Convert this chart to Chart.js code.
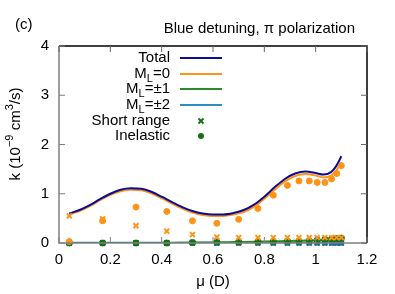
<!DOCTYPE html>
<html>
<head>
<meta charset="utf-8">
<script src="https://cdn.jsdelivr.net/npm/chart.js@4.4.1/dist/chart.umd.min.js"></script>
<style>
  html, body { margin: 0; padding: 0; background: #fff; }
  #wrap { width: 395px; height: 294px; position: relative; }
</style>
</head>
<body>
<div id="wrap"><canvas id="c"></canvas></div>
<script>
// --- data ---
const muCurve = [0.04, 0.08, 0.12, 0.16, 0.20, 0.24, 0.28, 0.32, 0.36, 0.40, 0.44, 0.48, 0.52, 0.56, 0.60,
  0.64, 0.68, 0.72, 0.76, 0.80, 0.84, 0.88, 0.92, 0.96, 1.00, 1.03, 1.06, 1.08, 1.10];
const totalK = [0.60, 0.67, 0.77, 0.89, 1.00, 1.08, 1.11, 1.10, 1.04, 0.94, 0.83, 0.73, 0.65, 0.60, 0.58,
  0.58, 0.61, 0.67, 0.78, 0.94, 1.13, 1.30, 1.41, 1.45, 1.42, 1.39, 1.44, 1.56, 1.76];
const ml0K = [0.58, 0.65, 0.75, 0.87, 0.98, 1.05, 1.08, 1.07, 1.01, 0.91, 0.80, 0.70, 0.62, 0.57, 0.55,
  0.55, 0.58, 0.63, 0.74, 0.90, 1.08, 1.25, 1.36, 1.40, 1.37, 1.33, 1.37, 1.47, 1.64];
const ml1K = [0, 0, 0, 0, 0, 0, 0, 0, 0, 0, 0.002, 0.005, 0.008, 0.01, 0.012,
  0.015, 0.02, 0.022, 0.025, 0.03, 0.035, 0.04, 0.045, 0.05, 0.055, 0.06, 0.065, 0.075, 0.09];
const ml2K = [0.003, 0.003, 0.003, 0.003, 0.003, 0.003, 0.003, 0.003, 0.003, 0.003, 0.003, 0.004, 0.004, 0.004, 0.004,
  0.005, 0.005, 0.005, 0.006, 0.006, 0.007, 0.008, 0.009, 0.01, 0.011, 0.012, 0.014, 0.016, 0.02];

const muPts = [0.04, 0.17, 0.30, 0.42, 0.52, 0.615, 0.70, 0.775, 0.835, 0.89, 0.935, 0.975, 1.006, 1.036, 1.062, 1.082, 1.10];
const ml0Short = [0.55, 0.49, 0.35, 0.24, 0.17, 0.12, 0.11, 0.11, 0.11, 0.11, 0.11, 0.11, 0.11, 0.11, 0.11, 0.11, 0.11];
const ml0Inel  = [0.03, 0.45, 0.73, 0.64, 0.45, 0.40, 0.48, 0.70, 0.97, 1.17, 1.26, 1.26, 1.23, 1.23, 1.30, 1.41, 1.57];
const ml1Short = [0.00, 0.00, 0.00, 0.00, 0.01, 0.01, 0.02, 0.02, 0.02, 0.03, 0.03, 0.04, 0.05, 0.06, 0.07, 0.08, 0.09];
const ml1Inel  = [0.00, 0.00, 0.00, 0.00, 0.01, 0.02, 0.02, 0.03, 0.03, 0.04, 0.04, 0.05, 0.06, 0.07, 0.08, 0.09, 0.10];
const ml2Short = [0.00, 0.00, 0.00, 0.00, 0.00, 0.00, 0.00, 0.00, 0.00, 0.00, 0.00, 0.00, 0.00, 0.00, 0.00, 0.00, 0.00];
const ml2Inel  = [0.00, 0.00, 0.00, 0.00, 0.00, 0.00, 0.00, 0.00, 0.00, 0.00, 0.00, 0.00, 0.00, 0.00, 0.00, 0.00, 0.00];

const xTickLabels = ["0", "0.2", "0.4", "0.6", "0.8", "1", "1.2"];
const yTickLabels = ["0", "1", "2", "3", "4"];

const FONT = '"Liberation Sans", Arial, Helvetica, sans-serif';
const C_TOTAL = "#0c0c96", C_ORANGE = "#ff9318", C_GREEN = "#2a8a2a", C_BLUE = "#2a8cc8";
const C_GREEN_PT = "#137013", C_BLUE_PT = "#1b6e9c";

const pts = (xs, ys) => xs.map((x, i) => ({ x: x, y: ys[i] }));

function curve(label, ys, color) {
  return { type: "line", label, data: pts(muCurve, ys), borderColor: color, borderWidth: 2,
    pointRadius: 0, fill: false, cubicInterpolationMode: "monotone" };
}
function marks(label, ys, color, style) {
  return { type: "scatter", label, data: pts(muPts, ys), pointStyle: style,
    pointRadius: style === "cross" ? 3.5 : 3, borderColor: color, backgroundColor: color,
    borderWidth: style === "cross" ? 2 : 1, clip: false, rotation: style === "cross" ? 45 : 0 };
}

// legend + frame + titles, drawn by hand (subscripts/superscripts)
const decor = {
  id: "decor",
  afterDraw(chart) {
    const { ctx, chartArea: a, scales: { x, y } } = chart;
    ctx.save();
    // frame
    ctx.lineWidth = 1.5;
    ctx.strokeStyle = "#808080";
    ctx.beginPath(); ctx.moveTo(a.left, a.top); ctx.lineTo(a.left, a.bottom); ctx.lineTo(a.right, a.bottom); ctx.stroke();
    ctx.strokeStyle = "#000";
    ctx.beginPath(); ctx.moveTo(a.left, a.top); ctx.lineTo(a.right, a.top); ctx.lineTo(a.right, a.bottom); ctx.stroke();
    // inward ticks
    ctx.lineWidth = 1;
    const tl = 6;
    x.ticks.forEach(t => {
      const px = x.getPixelForValue(t.value);
      ctx.strokeStyle = "#808080";
      ctx.beginPath(); ctx.moveTo(px, a.bottom); ctx.lineTo(px, a.bottom - tl); ctx.stroke();
      ctx.strokeStyle = "#666";
      ctx.beginPath(); ctx.moveTo(px, a.top); ctx.lineTo(px, a.top + tl); ctx.stroke();
    });
    y.ticks.forEach(t => {
      const py = y.getPixelForValue(t.value);
      ctx.strokeStyle = "#808080";
      ctx.beginPath(); ctx.moveTo(a.left, py); ctx.lineTo(a.left + tl, py); ctx.stroke();
      ctx.strokeStyle = "#666";
      ctx.beginPath(); ctx.moveTo(a.right, py); ctx.lineTo(a.right - tl, py); ctx.stroke();
    });

    ctx.fillStyle = "#000";
    ctx.textBaseline = "middle";
    const big = "15px " + FONT, small = "11px " + FONT;

    // panel label and title
    ctx.font = big;
    ctx.textAlign = "left";
    ctx.fillText("(c)", 15, 25);
    ctx.textAlign = "right";
    ctx.fillText("Blue detuning, \u03c0 polarization", 355, 29);

    // x title
    ctx.textAlign = "center";
    ctx.fillText("\u03bc (D)", (a.left + a.right) / 2, 282);

    // y title (rotated, with superscripts)
    ctx.save();
    ctx.translate(16, 134);
    ctx.rotate(-Math.PI / 2);
    const segs = [["k (10", big, 0], ["\u22129", small, -6], [" cm", big, 0], ["3", small, -6], ["/s)", big, 0]];
    let w = 0;
    segs.forEach(s => { ctx.font = s[1]; w += ctx.measureText(s[0]).width; });
    let cx = -w / 2;
    ctx.textAlign = "left";
    segs.forEach(s => { ctx.font = s[1]; ctx.fillText(s[0], cx, s[2]); cx += ctx.measureText(s[0]).width; });
    ctx.restore();

    // legend
    const rows = [
      ["Total", null, "", "line", C_TOTAL],
      ["M", "L", "=0", "line", C_ORANGE],
      ["M", "L", "=\u00b11", "line", C_GREEN],
      ["M", "L", "=\u00b12", "line", C_BLUE],
      ["Short range", null, "", "cross", C_GREEN_PT],
      ["Inelastic", null, "", "dot", C_GREEN_PT]
    ];
    const rowY = [58, 74, 89, 105, 121, 136];
    const tx = 170;
    rows.forEach((r, i) => {
      const ry = rowY[i];
      ctx.fillStyle = "#000";
      ctx.textAlign = "right";
      if (r[1]) {
        ctx.font = big;
        ctx.fillText(r[2], tx, ry);
        const w2 = ctx.measureText(r[2]).width;
        ctx.font = small;
        ctx.fillText(r[1], tx - w2, ry + 5);
        const w1 = ctx.measureText(r[1]).width;
        ctx.font = big;
        ctx.fillText(r[0], tx - w2 - w1, ry);
      } else {
        ctx.font = big;
        ctx.fillText(r[0], tx, ry);
      }
      if (r[3] === "line") {
        ctx.strokeStyle = r[4]; ctx.lineWidth = 2;
        ctx.beginPath(); ctx.moveTo(180, ry); ctx.lineTo(222, ry); ctx.stroke();
      } else if (r[3] === "cross") {
        ctx.strokeStyle = r[4]; ctx.lineWidth = 2;
        ctx.beginPath();
        ctx.moveTo(198.5, ry - 2.5); ctx.lineTo(203.5, ry + 2.5);
        ctx.moveTo(198.5, ry + 2.5); ctx.lineTo(203.5, ry - 2.5);
        ctx.stroke();
      } else {
        ctx.fillStyle = r[4];
        ctx.beginPath(); ctx.arc(201, ry, 3, 0, Math.PI * 2); ctx.fill();
      }
    });
    ctx.restore();
  }
};

new Chart(document.getElementById("c"), {
  data: {
    datasets: [
      marks("M0 short", ml0Short, C_ORANGE, "cross"),
      marks("M0 inel", ml0Inel, C_ORANGE, "circle"),
      marks("M1 short", ml1Short, C_GREEN_PT, "cross"),
      marks("M1 inel", ml1Inel, C_GREEN_PT, "circle"),
      marks("M2 short", ml2Short, C_BLUE_PT, "cross"),
      marks("M2 inel", ml2Inel, C_BLUE_PT, "rect"),
      curve("Total", totalK, C_TOTAL),
      curve("ML=0", ml0K, C_ORANGE),
      curve("ML=1", ml1K, C_GREEN),
      curve("ML=2", ml2K, C_BLUE)
    ]
  },
  options: {
    responsive: true,
    maintainAspectRatio: false,
    animation: false,
    events: [],
    layout: { padding: { top: 46, right: 28, left: 0, bottom: 0 } },
    plugins: { legend: { display: false }, tooltip: { enabled: false } },
    scales: {
      x: {
        type: "linear", min: 0, max: 1.2,
        grid: { display: false, drawTicks: false },
        border: { display: false },
        ticks: { stepSize: 0.2, padding: 8, color: "#000", font: { size: 15, family: FONT },
          callback: (v, i) => xTickLabels[i] },
        afterFit: s => { s.height = 51; }
      },
      y: {
        type: "linear", min: 0, max: 4,
        grid: { display: false, drawTicks: false },
        border: { display: false },
        ticks: { stepSize: 1, padding: 10, color: "#000", font: { size: 15, family: FONT },
          callback: (v, i) => yTickLabels[i] },
        afterFit: s => { s.width = 59; }
      }
    }
  },
  plugins: [decor]
});
</script>
</body>
</html>
